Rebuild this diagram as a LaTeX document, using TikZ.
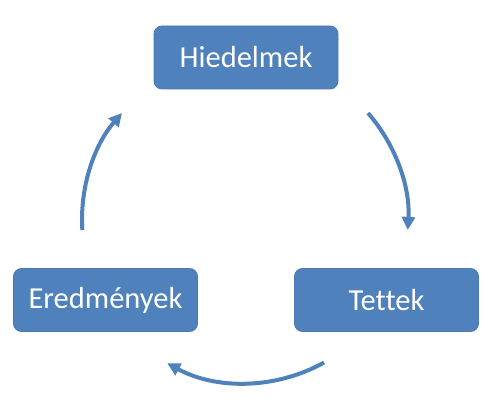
\documentclass[tikz,border=0pt]{standalone}
\usepackage{fontspec}
\setmainfont[Ligatures=NoCommon]{Carlito}
\usetikzlibrary{arrows.meta,calc}
\definecolor{boxblue}{HTML}{4F81BD}
\definecolor{boxedge}{HTML}{4A7AB3}
\begin{document}
\begin{tikzpicture}[x=1pt,y=1pt,
  box/.style={draw=boxedge,line width=0.8pt,fill=boxblue,rounded corners=8pt,
    minimum width=184pt,minimum height=63pt,inner sep=0pt,text=white,
    font=\fontsize{30.5}{33}\selectfont},
  cyc/.style={draw=boxblue,line width=4pt,-{Triangle[length=13pt,width=13pt]}}]
\useasboundingbox (0,0) rectangle (500,404);
\node[box] (hied) at (246,346.5) {Hiedelmek};
\node[box] (ered) at (105.5,104) {Eredmények};
\node[box] (tett) at (386.5,104) {Tettek};
\coordinate (c) at (245,184);
\coordinate (s1) at ($(c)+(41:163)$);
\coordinate (s2) at ($(c)+(-61:163)$);
\coordinate (s3) at ($(c)+(183.5:163)$);
\draw[cyc] (s1) arc[start angle=41,end angle=-3.5,radius=163];
\draw[cyc] (s2) arc[start angle=-61,end angle=-118.5,radius=163];
\draw[cyc] (s3) arc[start angle=183.5,end angle=139,radius=163];
\end{tikzpicture}
\end{document}
